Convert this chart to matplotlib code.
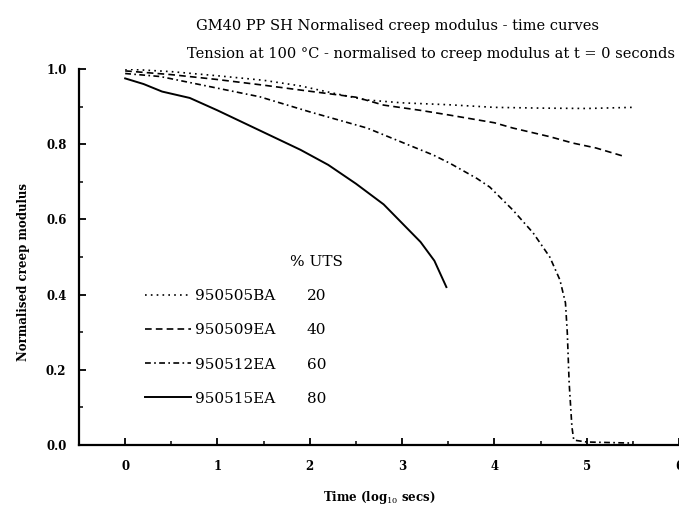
import matplotlib
matplotlib.use("Agg")
import matplotlib.pyplot as plt
from matplotlib.lines import Line2D

# ---- data ----
series_ids = ["950505BA", "950509EA", "950512EA", "950515EA"]
uts_pct = ["20", "40", "60", "80"]

x_20 = [0.0, 0.5, 1.0, 1.5, 1.9, 2.25, 2.6, 3.0, 3.5, 4.0, 4.5, 5.0, 5.5]
y_20 = [1.0, 0.993, 0.982, 0.970, 0.955, 0.936, 0.918, 0.910, 0.905, 0.898, 0.896, 0.895, 0.898]

x_40 = [0.0, 0.5, 1.0, 1.5, 1.9, 2.5, 2.8, 3.2, 3.5, 4.0, 4.2, 4.6, 4.85, 5.1, 5.4]
y_40 = [0.995, 0.985, 0.972, 0.957, 0.944, 0.925, 0.904, 0.890, 0.878, 0.857, 0.843, 0.820, 0.803, 0.790, 0.768]

x_60 = [0.0, 0.38, 0.74, 1.1, 1.46, 2.0, 2.62, 3.0, 3.34, 3.52, 3.81, 3.95, 4.2, 4.42, 4.6,
        4.71, 4.77, 4.79, 4.81, 4.84, 4.86, 5.0, 5.5]
y_60 = [0.988, 0.980, 0.962, 0.944, 0.926, 0.886, 0.843, 0.805, 0.771, 0.749, 0.709, 0.686, 0.625, 0.564, 0.500,
        0.439, 0.378, 0.298, 0.165, 0.048, 0.013, 0.008, 0.005]

x_80 = [0.0, 0.2, 0.4, 0.7, 1.0, 1.3, 1.6, 1.9, 2.2, 2.5, 2.8, 3.0, 3.2, 3.35, 3.48]
y_80 = [0.975, 0.960, 0.940, 0.923, 0.890, 0.855, 0.820, 0.785, 0.745, 0.695, 0.640, 0.590, 0.540, 0.490, 0.420]

title1 = "GM40 PP SH Normalised creep modulus - time curves"
title2 = "Tension at 100 \u00b0C - normalised to creep modulus at t = 0 seconds"
ylabel = "Normalised creep modulus"
xlabel = "Time (log$_{10}$ secs)"

plt.rcParams['font.family'] = ['DejaVu Serif', 'DejaVu Sans']
plt.rcParams['mathtext.fontset'] = 'dejavuserif'

fig = plt.figure(figsize=(6.79, 5.09), dpi=100)
ax = fig.add_axes([79/679, 64/509, 600/679, 376/509])

styles = [(0, (1, 2.5)), (0, (4, 2.5)), (0, (3.5, 2, 1, 2)), '-']
lws = [1.2, 1.2, 1.2, 1.4]
xs = [x_20, x_40, x_60, x_80]
ys = [y_20, y_40, y_60, y_80]
handles = []
for xv, yv, ls, lw, lab in zip(xs, ys, styles, lws, series_ids):
    ln, = ax.plot(xv, yv, color='black', linestyle=ls, linewidth=lw, label=lab)
    handles.append(ln)

ax.set_xlim(-0.5, 6)
ax.set_ylim(0, 1.0)
ax.set_xticks([0, 1, 2, 3, 4, 5, 6])
ax.set_xticks([0.5, 1.5, 2.5, 3.5, 4.5, 5.5], minor=True)
ax.set_yticks([0.0, 0.2, 0.4, 0.6, 0.8, 1.0])
ax.set_yticks([0.1, 0.3, 0.5, 0.7, 0.9], minor=True)
ax.set_yticklabels([f"{v:.1f}" for v in [0.0, 0.2, 0.4, 0.6, 0.8, 1.0]])
for s in ['top', 'right']:
    ax.spines[s].set_visible(False)
for s in ['left', 'bottom']:
    ax.spines[s].set_linewidth(1.6)
ax.tick_params(which='major', direction='in', length=5, width=1.3, labelsize=8.5)
ax.tick_params(axis='x', which='major', pad=11)
ax.tick_params(axis='y', which='major', pad=9)
ax.tick_params(which='minor', direction='in', length=3, width=1.1)
for lbl in ax.get_xticklabels() + ax.get_yticklabels():
    lbl.set_fontweight('bold')
ax.patch.set_alpha(0)

fig.text(398/679, 1 - 26/509, title1, ha='center', va='center', fontsize=10.5)
fig.text(431/679, 1 - 54/509, title2, ha='center', va='center', fontsize=10.5)
fig.text(24/679, 1 - 272/509, ylabel, rotation=90, ha='center', va='center',
         fontsize=8.5, fontweight='bold')
fig.text(379/679, 1 - 498/509, xlabel, ha='center', va='center',
         fontsize=8.5, fontweight='bold')

leg1 = ax.legend(handles=handles, labels=series_ids, loc='lower left',
                 bbox_to_anchor=(0.11, 0.105), frameon=False, fontsize=11,
                 handlelength=3.0, handletextpad=0.3, labelspacing=1.31,
                 borderpad=0, borderaxespad=0)
ax.add_artist(leg1)
blank = [Line2D([], [], linestyle='none') for _ in uts_pct]
leg2 = ax.legend(handles=blank, labels=uts_pct, loc='lower left',
                 bbox_to_anchor=(0.352, 0.105), frameon=False, fontsize=11,
                 handlelength=0, handletextpad=0, labelspacing=1.31,
                 borderpad=0, borderaxespad=0, title="% UTS",
                 title_fontproperties={'size': 11})

fig.savefig("out.png", dpi=100)
